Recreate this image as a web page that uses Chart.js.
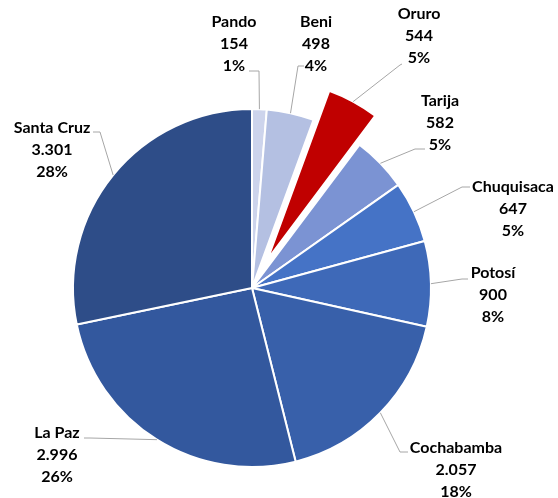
<!DOCTYPE html>
<html>
<head>
<meta charset="utf-8">
<script src="https://cdn.jsdelivr.net/npm/chart.js@4/dist/chart.umd.min.js"></script>
<style>
  html, body { margin: 0; padding: 0; background: #ffffff; }
  #wrap { width: 558px; height: 498px; position: relative; }
</style>
</head>
<body>
<div id="wrap"><canvas id="c" width="558" height="498"></canvas></div>
<script>
const departments = ["Pando", "Beni", "Oruro", "Tarija", "Chuquisaca", "Potosí", "Cochabamba", "La Paz", "Santa Cruz"];
const values = [154, 498, 544, 582, 647, 900, 2057, 2996, 3301];
const valueLabels = ["154", "498", "544", "582", "647", "900", "2.057", "2.996", "3.301"];
const percentLabels = ["1%", "4%", "5%", "5%", "5%", "8%", "18%", "26%", "28%"];
const sliceColors = ["#cdd4ec", "#b4c0e2", "#c00000", "#7b93d3", "#4573c6", "#3e69b8", "#3860aa", "#33589e", "#2e4d88"];
// explode distance in pixels (slice translated along its mid-angle)
const explodePx = [0, 0, 33, 0, 0, 0, 0, 0, 0];

// label layout: text centre x, first-line y, leader attach point, elbow point
const labelLayout = [
  { x: 234, y: 22, attach: [249, 71], elbow: [259, 71] },
  { x: 316, y: 22, attach: [304, 66], elbow: [298, 66] },
  { x: 419, y: 14, attach: [402, 64], elbow: [400, 65] },
  { x: 440, y: 101, attach: [425, 149], elbow: [415, 149] },
  { x: 513, y: 187, attach: [470, 187], elbow: [462, 187] },
  { x: 493, y: 273, attach: [468, 279], elbow: [462, 279] },
  { x: 456, y: 448, attach: [408, 452], elbow: [400, 452] },
  { x: 57, y: 433, attach: [84, 438], elbow: [90, 438] },
  { x: 52, y: 128, attach: [93, 132], elbow: [100, 132] }
];

// Excel-style explode: translate the whole slice without enlarging it
const explodePlugin = {
  id: 'explode',
  beforeDatasetDraw(chart, args) {
    args.meta.data.forEach((arc, i) => {
      const d = explodePx[i] || 0;
      if (!d || arc._exploded) return;
      const orig = arc.draw.bind(arc);
      arc.draw = function (ctx, area) {
        const mid = (this.startAngle + this.endAngle) / 2;
        ctx.save();
        ctx.translate(Math.cos(mid) * d, Math.sin(mid) * d);
        orig(ctx, area);
        ctx.restore();
      };
      arc._exploded = true;
    });
  }
};

const labelPlugin = {
  id: 'pieLabels',
  afterDatasetsDraw(chart) {
    const ctx = chart.ctx;
    const meta = chart.getDatasetMeta(0);
    ctx.save();
    meta.data.forEach((arc, i) => {
      const p = arc.getProps(['x', 'y', 'startAngle', 'endAngle', 'outerRadius'], true);
      const mid = (p.startAngle + p.endAngle) / 2;
      const off = explodePx[i] || 0;
      const r = p.outerRadius + off;
      const ex = p.x + Math.cos(mid) * r;
      const ey = p.y + Math.sin(mid) * r;
      const L = labelLayout[i];
      ctx.strokeStyle = '#a6a6a6';
      ctx.lineWidth = 1;
      ctx.beginPath();
      ctx.moveTo(L.attach[0], L.attach[1]);
      ctx.lineTo(L.elbow[0], L.elbow[1]);
      ctx.lineTo(ex, ey);
      ctx.stroke();
      ctx.fillStyle = '#000000';
      ctx.font = 'bold 16px Lato, "Open Sans", sans-serif';
      ctx.textAlign = 'center';
      ctx.textBaseline = 'middle';
      const lines = [departments[i], valueLabels[i], percentLabels[i]];
      lines.forEach((t, k) => ctx.fillText(t, L.x, L.y + k * 22));
    });
    ctx.restore();
  }
};

new Chart(document.getElementById('c'), {
  type: 'pie',
  data: {
    labels: departments,
    datasets: [{
      data: values,
      backgroundColor: sliceColors,
      borderColor: '#ffffff',
      borderWidth: 2
    }]
  },
  options: {
    responsive: false,
    animation: false,
    radius: 179,
    rotation: 0,
    layout: { padding: { left: 0, right: 54, top: 78, bottom: 0 } },
    plugins: {
      legend: { display: false },
      tooltip: { enabled: false }
    }
  },
  plugins: [explodePlugin, labelPlugin]
});
</script>
</body>
</html>
